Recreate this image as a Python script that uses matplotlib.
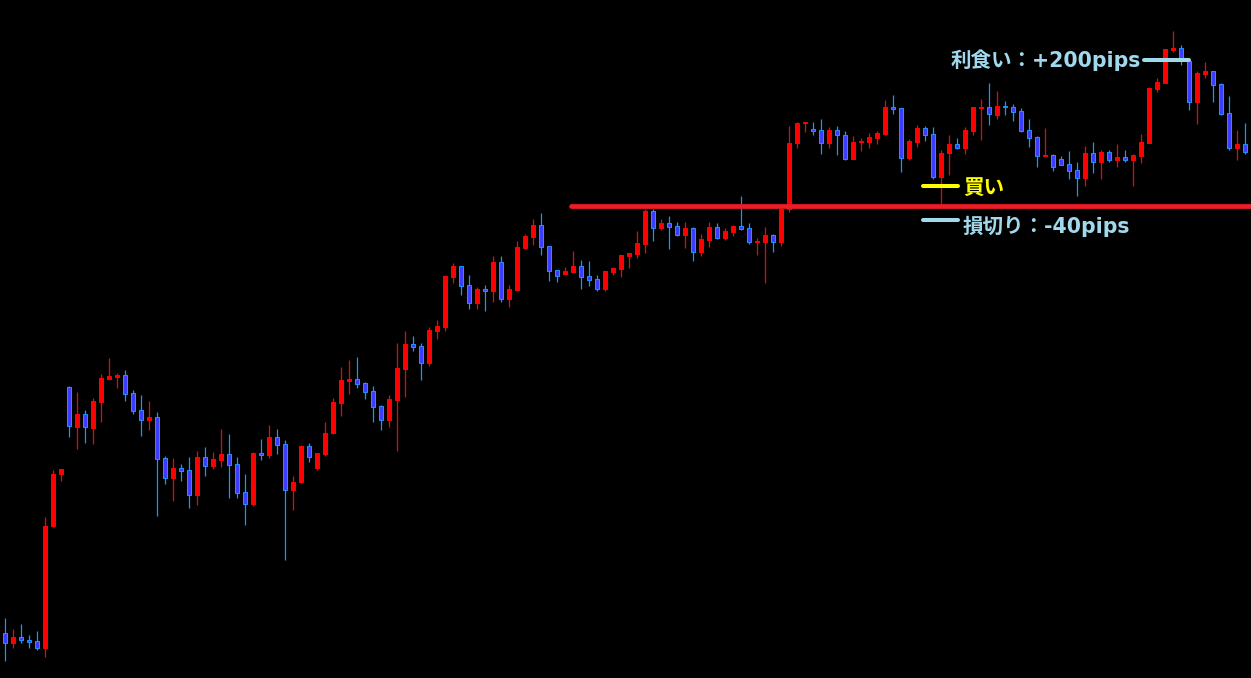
import matplotlib
matplotlib.use("Agg")
import matplotlib.pyplot as plt
import numpy as np

# OHLC (price in chart points)
opens = [45, 35, 41, 38, 37, 30, 152, 204, 291, 251, 264, 250, 276, 299, 301, 303, 285, 268, 258, 261,
         220, 200, 210, 208, 183, 221, 212, 218, 224, 214, 186, 174, 225, 223, 241, 234, 188, 196, 232, 210,
         224, 245, 275, 297, 299, 295, 287, 272, 258, 278, 309, 334, 332, 315, 347, 351, 401, 412, 393, 375,
         389, 387, 416, 379, 388, 430, 441, 453, 432, 408, 404, 406, 412, 402, 399, 389, 406, 409, 422, 424,
         434, 467, 450, 455, 452, 443, 450, 426, 438, 451, 440, 446, 452, 450, 436, 436, 443, 436, 469, 535,
         555, 549, 548, 535, 548, 543, 519, 536, 536, 540, 544, 571, 570, 520, 536, 550, 544, 501, 525, 534,
         530, 547, 570, 571, 563, 572, 571, 567, 548, 541, 522, 523, 519, 514, 508, 500, 525, 516, 526, 518,
         521, 518, 522, 535, 589, 595, 628, 630, 617, 576, 604, 607, 594, 565, 530, 534]
highs = [60, 49, 54, 43, 47, 161, 208, 209, 292, 286, 268, 280, 304, 320, 305, 308, 288, 283, 277, 266,
         222, 220, 214, 221, 227, 231, 226, 249, 244, 221, 204, 226, 239, 253, 249, 238, 202, 233, 235, 225,
         256, 280, 311, 318, 321, 296, 292, 273, 283, 335, 347, 342, 335, 351, 358, 403, 415, 412, 403, 391,
         393, 422, 422, 393, 437, 444, 459, 465, 432, 408, 411, 427, 418, 417, 403, 407, 411, 423, 425, 447,
         469, 469, 459, 462, 456, 456, 451, 444, 456, 455, 450, 453, 482, 455, 440, 451, 444, 469, 552, 556,
         556, 556, 559, 551, 552, 547, 542, 540, 545, 547, 578, 583, 570, 539, 553, 552, 551, 528, 543, 540,
         551, 571, 579, 595, 587, 577, 574, 570, 559, 542, 550, 524, 522, 527, 516, 532, 536, 528, 528, 534,
         528, 524, 544, 591, 600, 629, 647, 633, 618, 607, 616, 607, 595, 582, 548, 555]
lows = [17, 30, 35, 30, 28, 21, 151, 197, 241, 229, 235, 234, 256, 299, 290, 277, 264, 242, 248, 162,
        194, 177, 197, 170, 173, 202, 209, 211, 180, 180, 153, 172, 218, 220, 224, 118, 168, 195, 216, 208,
        222, 244, 262, 284, 290, 279, 256, 248, 251, 227, 281, 327, 298, 312, 339, 347, 395, 383, 369, 369,
        367, 376, 376, 371, 388, 429, 433, 423, 397, 396, 404, 406, 389, 392, 387, 387, 403, 401, 410, 420,
        425, 437, 448, 429, 442, 430, 417, 422, 431, 439, 438, 442, 448, 434, 423, 395, 426, 432, 466, 530,
        546, 543, 524, 530, 523, 518, 519, 527, 530, 534, 543, 564, 506, 518, 531, 537, 499, 474, 503, 529,
        524, 543, 538, 553, 559, 563, 557, 546, 531, 511, 522, 507, 513, 499, 482, 492, 505, 499, 516, 511,
        516, 492, 515, 535, 586, 595, 626, 613, 568, 554, 600, 576, 563, 528, 518, 524]
closes = [35, 41, 38, 36, 30, 152, 204, 209, 252, 264, 251, 277, 300, 302, 303, 284, 267, 258, 261, 219,
          200, 210, 207, 183, 221, 212, 219, 224, 213, 185, 174, 225, 223, 241, 233, 188, 196, 232, 221, 225,
          245, 276, 298, 299, 294, 286, 271, 258, 279, 310, 334, 331, 315, 348, 352, 402, 412, 392, 375, 389,
          387, 416, 379, 389, 431, 442, 453, 431, 407, 402, 407, 412, 401, 398, 389, 407, 410, 423, 425, 435,
          467, 450, 455, 451, 443, 450, 426, 439, 451, 440, 447, 452, 449, 436, 437, 443, 436, 469, 535, 555,
          556, 547, 535, 548, 543, 519, 536, 537, 541, 545, 571, 569, 520, 537, 550, 543, 501, 525, 534, 530,
          548, 571, 571, 564, 572, 571, 566, 547, 540, 522, 523, 511, 513, 507, 500, 525, 516, 526, 518, 521,
          518, 523, 536, 590, 596, 629, 630, 618, 576, 605, 607, 593, 564, 530, 534, 526]

support_level = 471.7
support_start = 70.7
buy_level = 492
stop_level = 458.5
take_profit_level = 617.7

UP_COLOR = '#ff0000'
DOWN_FILL = '#3c3cff'
DOWN_EDGE = '#1e90ff'
LINE_RED = '#ee1c24'
YELLOW = '#ffff00'
LIGHT_BLUE = '#a0d8ec'
# wide latin glyphs first, Japanese falls through to the CJK font
FONT = ['DejaVu Sans', 'Noto Sans CJK JP']
TEXT_SIZE = 14.8

o = np.array(opens, float)
h = np.array(highs, float)
l = np.array(lows, float)
c = np.array(closes, float)
x = np.arange(len(o))
up = c >= o

fig = plt.figure(figsize=(12.51, 6.78), dpi=100, facecolor='black')
ax = fig.add_axes([0, 0, 1, 1])
ax.set_facecolor('black')
ax.set_xlim(-0.6625, 155.7125)
ax.set_ylim(0, 678)
ax.axis('off')

# wicks
ax.vlines(x, l, h, colors=np.where(up, UP_COLOR, DOWN_EDGE), linewidth=0.9, zorder=2)

# bodies
bottom = np.minimum(o, c)
height = np.maximum(np.abs(c - o), 1.2)
ax.bar(x, height, bottom=bottom, width=0.5,
       color=np.where(up, UP_COLOR, DOWN_FILL),
       edgecolor=np.where(up, UP_COLOR, DOWN_EDGE),
       linewidth=0.75, zorder=3)

# support line
ax.plot([support_start, 156], [support_level, support_level], color=LINE_RED,
        linewidth=3.4, solid_capstyle='round', zorder=5)

# buy / stop / take-profit markers
ax.plot([114.7, 119.1], [buy_level, buy_level], color=YELLOW, linewidth=2.9,
        solid_capstyle='round', zorder=6)
ax.plot([114.7, 119.1], [stop_level, stop_level], color=LIGHT_BLUE, linewidth=2.9,
        solid_capstyle='round', zorder=6)
ax.plot([142.3, 147.9], [take_profit_level, take_profit_level], color=LIGHT_BLUE, linewidth=2.9,
        solid_capstyle='round', zorder=6)

ax.text(119.7, buy_level - 2, '買い', color=YELLOW, fontsize=TEXT_SIZE, fontweight='bold',
        family=FONT, ha='left', va='center', zorder=7)
ax.text(119.7, stop_level - 6.5, '損切り：-40pips', color=LIGHT_BLUE, fontsize=TEXT_SIZE,
        fontweight='bold', family=FONT, ha='left', va='center', zorder=7)
ax.text(141.9, take_profit_level + 0.5, '利食い：+200pips', color=LIGHT_BLUE, fontsize=TEXT_SIZE,
        fontweight='bold', family=FONT, ha='right', va='center', zorder=7)

fig.savefig('out.png', dpi=100, facecolor='black')
